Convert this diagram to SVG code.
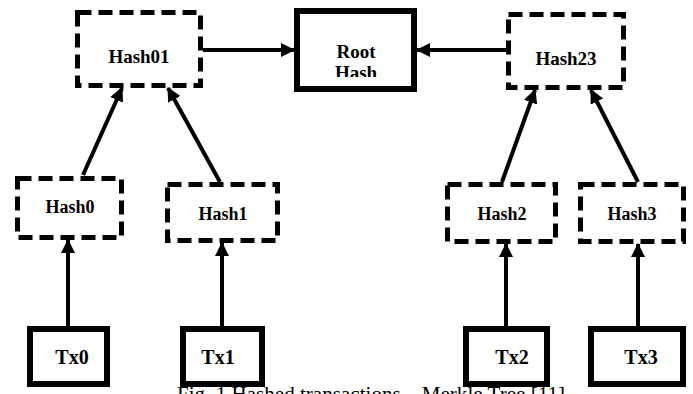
<svg xmlns="http://www.w3.org/2000/svg" width="693" height="394" viewBox="0 0 693 394">
<style>
.dash{fill:#fff;stroke:#000;stroke-width:5;stroke-dasharray:14 7}
.solid{fill:#fff;stroke:#000;stroke-width:6}
.lbl{font-family:"Liberation Serif","Times New Roman",serif;font-weight:bold;text-anchor:middle;fill:#000}
.conn{stroke:#000;stroke-width:4;fill:none;marker-end:url(#ah)}
.cap{font-family:"Liberation Serif","Times New Roman",serif;font-size:21px;fill:#000}
</style>
<defs>
<marker id="ah" markerUnits="userSpaceOnUse" markerWidth="14" markerHeight="14" refX="13" refY="7" orient="auto"><path d="M0,0 L14,7 L0,14 z" fill="#000"/></marker>
<clipPath id="rootclip"><rect x="300" y="14" width="111" height="63"/></clipPath>
</defs>
<rect width="693" height="394" fill="#fff"/>
<text class="cap" x="177" y="401" textLength="388" lengthAdjust="spacingAndGlyphs">Fig. 1 Hashed transactions – Merkle Tree [11]</text>
<g id="connectors">
<line class="conn" x1="203" y1="50" x2="294" y2="50"/>
<line class="conn" x1="506" y1="50" x2="417" y2="50"/>
<line class="conn" x1="83" y1="175" x2="122" y2="88"/>
<line class="conn" x1="220" y1="182" x2="168" y2="88"/>
<line class="conn" x1="502" y1="182" x2="535" y2="90"/>
<line class="conn" x1="638" y1="182" x2="591" y2="90"/>
<line class="conn" x1="68" y1="326" x2="68" y2="240"/>
<line class="conn" x1="222" y1="326" x2="222" y2="243"/>
<line class="conn" x1="506" y1="326" x2="506" y2="244"/>
<line class="conn" x1="638" y1="326" x2="638" y2="244"/>
</g>
<g id="hash01"><rect class="dash" x="77.5" y="12.5" width="123" height="73"/><text class="lbl" x="139" y="63" font-size="19">Hash01</text></g>
<g id="root"><rect class="solid" x="297" y="11" width="117" height="78"/><g clip-path="url(#rootclip)"><text class="lbl" x="356" y="58" font-size="19">Root</text><text class="lbl" x="356" y="79" font-size="19">Hash</text></g></g>
<g id="hash23"><rect class="dash" x="508.5" y="14.5" width="115" height="73"/><text class="lbl" x="566" y="65" font-size="19">Hash23</text></g>
<g id="hash0"><rect class="dash" x="17.5" y="178.5" width="104" height="59"/><text class="lbl" x="70" y="213" font-size="18">Hash0</text></g>
<g id="hash1"><rect class="dash" x="167.5" y="184.5" width="110" height="56"/><text class="lbl" x="223" y="220" font-size="18">Hash1</text></g>
<g id="hash2"><rect class="dash" x="447.5" y="184.5" width="108" height="57"/><text class="lbl" x="502" y="220" font-size="18">Hash2</text></g>
<g id="hash3"><rect class="dash" x="580.5" y="184.5" width="103" height="57"/><text class="lbl" x="632" y="220" font-size="18">Hash3</text></g>
<g id="tx0"><rect class="solid" x="30" y="329" width="77" height="55"/><text class="lbl" x="72" y="364" font-size="20">Tx0</text></g>
<g id="tx1"><rect class="solid" x="183" y="329" width="79" height="55"/><text class="lbl" x="218" y="364" font-size="20">Tx1</text></g>
<g id="tx2"><rect class="solid" x="466" y="329" width="81" height="55"/><text class="lbl" x="512" y="364" font-size="20">Tx2</text></g>
<g id="tx3"><rect class="solid" x="591" y="329" width="92" height="55"/><text class="lbl" x="641" y="364" font-size="20">Tx3</text></g>
</svg>
